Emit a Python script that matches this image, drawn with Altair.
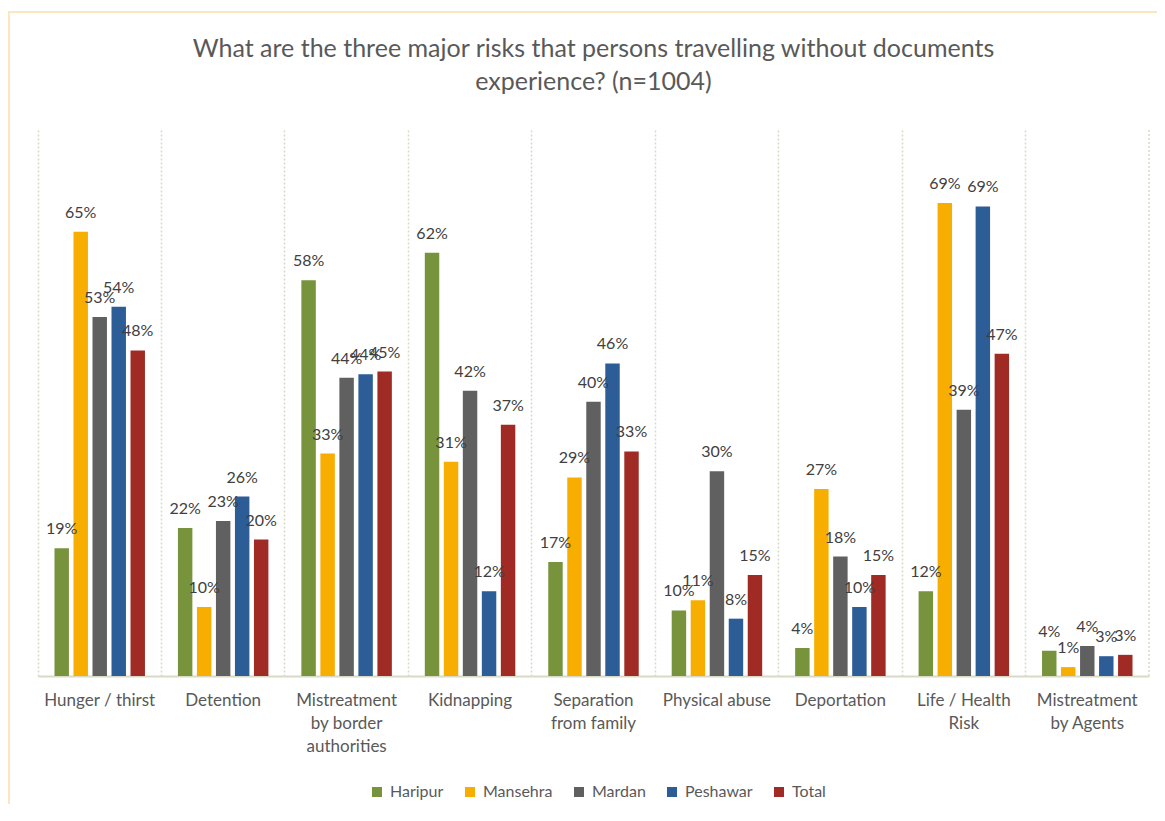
import altair as alt
import pandas as pd

categories = ["Hunger / thirst", "Detention", "Mistreatment|by border|authorities", "Kidnapping",
              "Separation|from family", "Physical abuse", "Deportation", "Life / Health|Risk",
              "Mistreatment|by Agents"]
series = ["Haripur", "Mansehra", "Mardan", "Peshawar", "Total"]
colors = ["#77933C", "#F8AE00", "#606060", "#2C5D97", "#A02B25"]

haripur = [18.7, 21.7, 58.0, 62.0, 16.7, 9.6, 4.1, 12.4, 3.7]
mansehra = [65.1, 10.1, 32.6, 31.4, 29.1, 11.1, 27.4, 69.3, 1.3]
mardan = [52.6, 22.7, 43.7, 41.8, 40.2, 30.0, 17.5, 39.0, 4.4]
peshawar = [54.1, 26.3, 44.2, 12.4, 45.8, 8.4, 10.1, 68.8, 2.9]
total = [47.7, 20.0, 44.6, 36.8, 32.9, 14.8, 14.8, 47.2, 3.1]

values = {"Haripur": haripur, "Mansehra": mansehra, "Mardan": mardan,
          "Peshawar": peshawar, "Total": total}
rows = []
for s in series:
    for c, v in zip(categories, values[s]):
        rows.append({"category": c, "series": s, "value": v})
df = pd.DataFrame(rows)

W, H = 1111, 546
GRID = "#D8DAC6"
FONT = "Lato"

x_enc = alt.X("category:N", sort=categories,
              scale=alt.Scale(paddingInner=0, paddingOuter=0),
              axis=alt.Axis(title=None, labelExpr="split(datum.label, '|')", labelAngle=0,
                            grid=True, gridDash=[2, 2], gridColor=GRID, gridWidth=1.5,
                            bandPosition=0, ticks=False, domainColor=GRID, domainWidth=2,
                            labelFontSize=17, labelColor="#595959", labelFont=FONT,
                            labelPadding=24, labelLineHeight=23, labelBaseline="middle"))
xo_enc = alt.XOffset("series:N", sort=series,
                     scale=alt.Scale(paddingInner=0.24, paddingOuter=0.867))
y_enc = alt.Y("value:Q", scale=alt.Scale(domain=[0, 80]), axis=None)

bars = alt.Chart(df).mark_bar().encode(
    x=x_enc, xOffset=xo_enc, y=y_enc,
    color=alt.Color("series:N", sort=series,
                    scale=alt.Scale(domain=series, range=colors),
                    legend=alt.Legend(orient="none", legendX=331, legendY=654, direction="horizontal",
                                      columns=5, title=None, symbolType="square", symbolSize=100,
                                      symbolStrokeWidth=0, labelFontSize=16, labelFont=FONT,
                                      labelColor="#595959", columnPadding=18, padding=0,
                                      labelOffset=5))
)

labels = alt.Chart(df).transform_calculate(
    lbl="format(datum.value, '.0f') + '%'"
).mark_text(baseline="alphabetic", dy=-14, fontSize=16, font=FONT, color="#404040").encode(
    x=x_enc, xOffset=xo_enc, y=y_enc, text="lbl:N"
)

last_rule = alt.Chart(pd.DataFrame({"category": [categories[-1]]})).mark_rule(
    strokeDash=[2, 2], color=GRID, strokeWidth=1.5
).encode(
    x=alt.X("category:N", sort=categories, bandPosition=1),
    y=alt.value(0), y2=alt.value(H)
)

frame = alt.Chart(pd.DataFrame({"k": [0]})).mark_rect(
    filled=False, stroke="#FCE6BB", strokeWidth=2
).encode(
    x=alt.value(-29), x2=alt.value(W + 60), y=alt.value(-118), y2=alt.value(H + 200)
)

chart = alt.layer(frame, bars, labels, last_rule).properties(
    width=W, height=H,
    background="white",
    autosize=alt.AutoSizeParams(type="none"),
    padding={"left": 30, "top": 122, "right": 8, "bottom": 128},
    title=alt.TitleParams(
        text=["What are the three major risks that persons travelling without documents",
              "experience? (n=1004)"],
        fontSize=25, font=FONT, color="#595959", fontWeight="normal",
        anchor="middle", offset=-84, lineHeight=33, frame="group"
    )
).configure_view(stroke="transparent", strokeWidth=0)

chart.save("out.html", embed_options={"renderer": "svg", "actions": False})
